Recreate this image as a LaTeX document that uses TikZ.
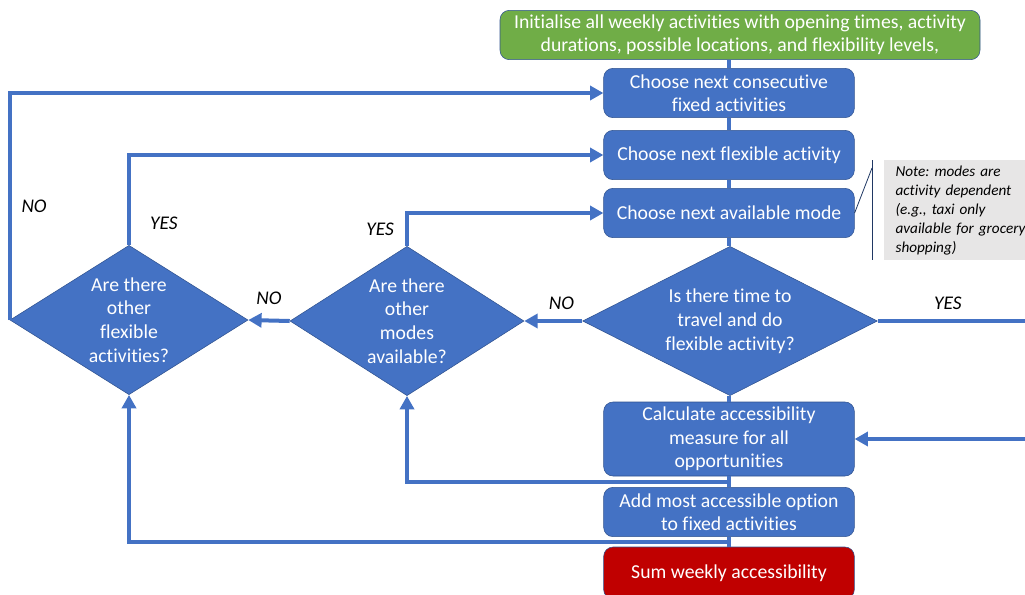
\documentclass[tikz,border=0pt]{standalone}
\usepackage{fontspec}
\setmainfont{Carlito}[Ligatures=NoCommon]
\frenchspacing
\usetikzlibrary{shapes.geometric,arrows.meta,calc}
\definecolor{flowblue}{HTML}{4472C4}
\definecolor{edgeblue}{HTML}{2F528F}
\definecolor{startgreen}{HTML}{70AD47}
\definecolor{endred}{HTML}{C00000}
\definecolor{notegray}{HTML}{E7E6E6}
\definecolor{calloutblue}{HTML}{203864}
\begin{document}
\begin{tikzpicture}[x=0.75pt,y=-0.75pt,
		process/.style={rectangle, rounded corners=7pt, draw=edgeblue, fill=flowblue, text=white, align=center, minimum width=188pt, minimum height=37pt, inner sep=2pt, font=\fontsize{14.8}{17.5}\selectfont},
		decision/.style={diamond, draw=edgeblue, fill=flowblue, minimum width=221pt, minimum height=112pt, inner sep=0pt},
		question/.style={text=white, align=center, font=\fontsize{14.8}{17.8}\selectfont},
		link/.style={draw=flowblue, line width=3pt},
		flow/.style={link, -{Triangle[length=10pt,width=10.5pt]}},
		answer/.style={font=\fontsize{14.5}{16}\selectfont\itshape},
		callout/.style={draw=calloutblue, line width=0.6pt},
		note/.style={fill=notegray, anchor=north west, align=left, text width=135pt, minimum height=75pt, inner xsep=8.5pt, font=\fontsize{11.4}{14.2}\selectfont\itshape}
		]
		\clip (0,0) rectangle (1025,594);
		
		\node[process, fill=startgreen, minimum width=360pt] (init) at (740,35) {Initialise all weekly activities with opening times, activity\\durations, possible locations, and flexibility levels,};
		\node[process] (fixed) at (729,93) {Choose next consecutive\\fixed activities};
		\node[process] (flexible) at (729,155) {Choose next flexible activity};
		\node[process] (mode) at (729,213) {Choose next available mode};
		\node[decision, label={[question]center:{Is there time to\\travel and do\\flexible activity?}}] (time) at (730,321) {};
		\node[process, minimum height=55.5pt] (access) at (729,439) {Calculate accessibility\\measure for all\\opportunities};
		\node[process] (best) at (729,512) {Add most accessible option\\to fixed activities};
		\node[process, fill=endred, minimum height=39pt] (weekly) at (729,573) {Sum weekly accessibility};
		\node[decision, minimum width=175.5pt, label={[question]center:{Are there\\other\\modes\\available?}}] (moremodes) at (407,321) {};
		\node[decision, minimum width=178.5pt, label={[question]center:{Are there\\other\\flexible\\activities?}}] (moreflex) at (129,320) {};
		\node[note] (note) at (884,160) {Note: modes are\\activity dependent\\(e.g., taxi only\\available for grocery\\shopping)};
		
		\draw[link] (fixed.north |- init.south) -- (fixed.north);
		\draw[link] (fixed) -- (flexible);
		\draw[link] (flexible) -- (mode);
		\draw[link] (mode.south) -- (mode.south |- time.north);
		\draw[link] (access.north |- time.south) -- (access.north);
		\draw[link] (access) -- (best);
		\draw[link] (best) -- (weekly);
		
		\draw[flow] (time.west) -- node[answer, above=4pt, pos=.36]{NO} (moremodes.east);
		\draw[flow] (moremodes.west) -- node[answer, above=7pt]{NO} (moreflex.east);
		\draw[flow] (moremodes.north) |- node[answer, left=5pt, pos=.25]{YES} (mode.west);
		\draw[flow] (moreflex.north) |- node[answer, right=11pt, pos=.12]{YES} (flexible.west);
		\draw[flow] (moreflex.west) |- node[answer, right=4pt, pos=.25]{NO} (fixed.west);
		\coordinate (offedge) at (1045,321);
		\draw[flow] (time.east) -- node[answer, above=4pt, pos=.42]{YES} (offedge) |- (access.east);
		\draw[flow] ($(access.south)!.5!(best.north)$) -| (moremodes.south);
		\draw[flow] ($(best.south)!.5!(weekly.north)$) -| (moreflex.south);
		
		\coordinate (bartop) at (872,160);
		\coordinate (barbottom) at (872,260);
		\coordinate (barhook) at (872,168);
		\draw[callout] (bartop) -- (barbottom);
		\draw[callout] (barhook) -- (mode.east);
	\end{tikzpicture}
\end{document}
